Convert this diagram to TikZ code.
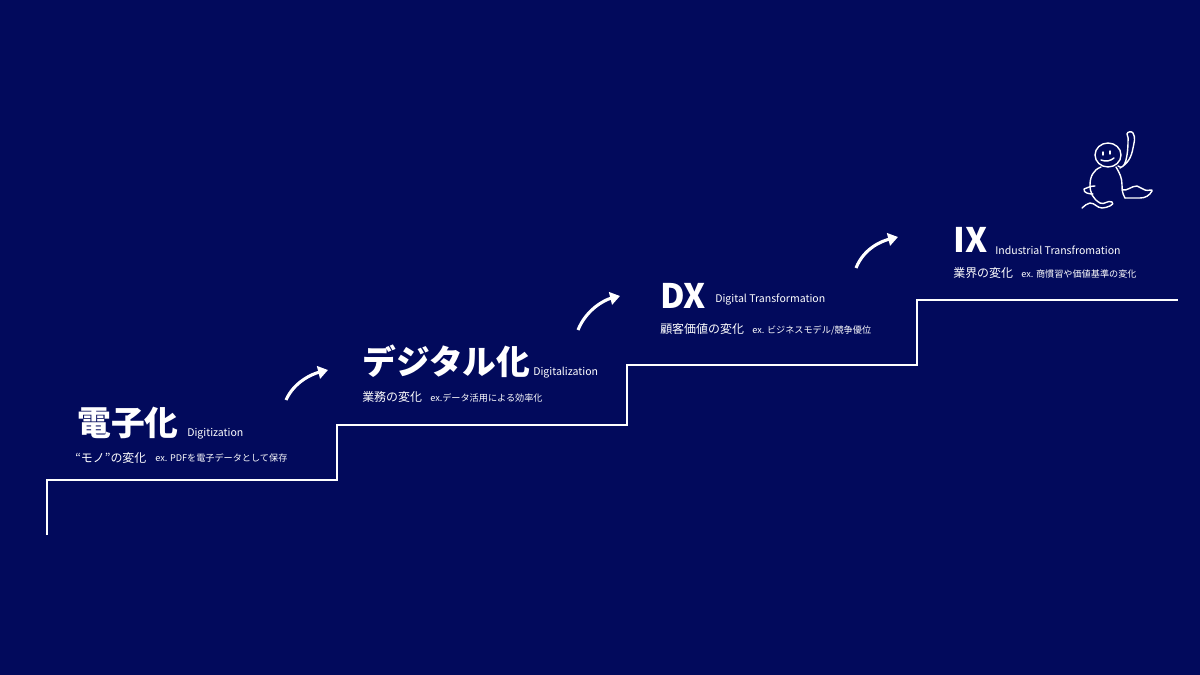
\documentclass[tikz,border=0pt]{standalone}
\usepackage{fontspec}
\setmainfont{Noto Sans CJK JP}
\usetikzlibrary{arrows.meta}
\definecolor{navy}{HTML}{020A5C}
\begin{document}
\begin{tikzpicture}
  [x=0.025cm, y=-0.025cm,
    title/.style={anchor=west, text=white, font=\bfseries\fontsize{24}{28}\selectfont, inner sep=0},
    sub/.style={anchor=west, text=white, font=\fontsize{7.5}{9}\selectfont, inner sep=0},
    desc/.style={anchor=west, text=white, font=\fontsize{8.5}{10}\selectfont, inner sep=0},
    ex/.style={anchor=west, text=white, font=\fontsize{6.5}{8}\selectfont, inner sep=0},
    step arrow/.style={white, line width=2.2pt, -{Triangle[length=7pt,width=9pt]}},
  ]
  \fill[navy] (0,0) rectangle (1200,675);

  % stairs
  \draw[white, line width=1.3pt]
    (47,535) -- (47,480) -- (337,480) -- (337,425) -- (627,425)
    -- (627,365) -- (917,365) -- (917,300) -- (1178,300);

  % step 1
  \node[title] (t1) at (77,423) {電子化};
  \node[sub] (s1) at (187,434) {Digitization};
  \node[desc] (d1) at (75,458) {“モノ”の変化};
  \node[ex] (e1) at (155,458) {ex. PDFを電子データとして保存};

  % step 2
  \node[title] (t2) at (362,361) {デジタル化};
  \node[sub] (s2) at (533,373) {Digitalization};
  \node[desc] (d2) at (362,397) {業務の変化};
  \node[ex] (e2) at (430,398) {ex.データ活用による効率化};

  % step 3
  \node[title] (t3) at (660,296) {DX};
  \node[sub] (s3) at (715,300) {Digital Transformation};
  \node[desc] (d3) at (660,329) {顧客価値の変化};
  \node[ex] (e3) at (752,330) {ex. ビジネスモデル/競争優位};

  % step 4
  \node[title] (t4) at (953,240) {IX};
  \node[sub] (s4) at (995,250) {Industrial Transfromation};
  \node[desc] (d4) at (953,273) {業界の変化};
  \node[ex] (e4) at (1021,274) {ex. 商慣習や価値基準の変化};

  % arrows
  \coordinate (a1) at (286,400); \coordinate (b1) at (328,370);
  \coordinate (a2) at (578,330); \coordinate (b2) at (620,296);
  \coordinate (a3) at (856,268); \coordinate (b3) at (898,237);
  \draw[step arrow] (a1) .. controls +(8,-18) and +(-16,4) .. (b1);
  \draw[step arrow] (a2) .. controls +(8,-20) and +(-16,4) .. (b2);
  \draw[step arrow] (a3) .. controls +(8,-20) and +(-16,4) .. (b3);

  % runner
  \begin{scope}[white, line width=1pt, line cap=round, line join=round]
    \draw (1108,155) ellipse (13 and 12);
    \draw (1103,152) -- (1103,155) (1110,151) -- (1110,154);
    \draw (1101,160) to[bend right=30] (1114,158);
    \draw (1118,166) to[out=-40,in=-90] (1128,142) to[out=90,in=-60] (1127,134)
      to[out=90,in=120] (1133,133) to[out=-60,in=80] (1133,148) to[out=-100,in=30] (1120,168);
    \draw (1101,167) to[out=200,in=90] (1090,185) to[out=-90,in=150] (1100,203);
    \draw (1116,167) to[out=-60,in=90] (1122,185) to[out=-90,in=120] (1125,198);
    \draw (1122,190) to[out=-10,in=180] (1137,186) to[out=-30,in=150] (1145,190)
      to[out=-30,in=60] (1152,191) to[out=-120,in=0] (1140,198) to[out=180,in=0] (1125,198);
    \draw (1100,203) to[out=-30,in=150] (1112,202) to[out=-30,in=0] (1102,208)
      to[out=180,in=0] (1090,203) to[out=180,in=30] (1082,208);
    \draw (1095,186) to[out=180,in=20] (1084,189) to[out=-100,in=180] (1093,194);
  \end{scope}
\end{tikzpicture}
\end{document}
